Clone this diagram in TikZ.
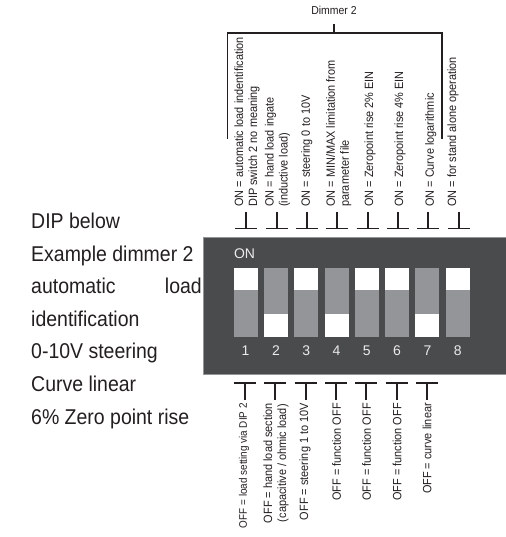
\documentclass[tikz,border=0pt]{standalone}
\usepackage{fontspec}
\setmainfont{Liberation Sans}
\newfontfamily\nar[FakeStretch=0.91]{Liberation Sans}
\definecolor{panel}{HTML}{4A4B4D}
\definecolor{sw}{HTML}{939598}
\definecolor{ink}{HTML}{231F20}
\tikzset{
 vlab/.style={font=\nar\fontsize{12}{14}\selectfont,rotate=90,inner sep=0pt,align=left,text=ink},
 onlab/.style={vlab,anchor=west},
 offlab/.style={vlab,anchor=east},
 mark line/.style={draw=ink,line width=1.9pt},
 side/.style={font=\nar\fontsize{21.4}{24}\selectfont,anchor=base west,inner sep=0pt,text=ink},
 swbody/.style={fill=sw,draw=none},
 swknob/.style={fill=white,draw=none},
 swnum/.style={font=\fontsize{14}{15}\selectfont,text=white!92!black,inner sep=0pt}
}
\begin{document}
\begin{tikzpicture}[x=1pt,y=-1pt]
\useasboundingbox (0,0) rectangle (505,537);
\fill[white] (0,0) rectangle (505,537);
% side text
\node[side] (s1) at (31,228) {DIP below};
\node[side] (s2) at (31,261) {Example dimmer 2};
\node[side] (s3) at (31,293.5) {automatic};
\node[side,anchor=base east] (s3b) at (202,293.5) {load};
\node[side] (s4) at (31,326) {identification};
\node[side] (s5) at (31,358.5) {0-10V steering};
\node[side] (s6) at (31,391) {Curve linear};
\node[side] (s7) at (31,424) {6\% Zero point rise};
% panel
\filldraw[fill=panel,draw=sw,line width=0.8pt] (203.5,237) rectangle (507,374);
\node[font=\fontsize{14}{15}\selectfont,text=white!92!black,inner sep=0pt] (on) at (244.5,254) {ON};
% switches
\foreach \i/\up in {1/1,2/0,3/1,4/0,5/1,6/1,7/0,8/1}{
 \pgfmathsetmacro\xl{233.6+30.3*(\i-1)}
 \pgfmathsetmacro\xr{\xl+24}
 \fill[swbody] (\xl,267.5) rectangle (\xr,336.7);
 \ifnum\up=1
  \fill[swknob] (\xl,267.5) rectangle (\xr,290);
 \else
  \fill[swknob] (\xl,314) rectangle (\xr,336.7);
 \fi
 \pgfmathsetmacro\xc{\xl+12}
 \node[swnum] (n\i) at (\xc,350.5) {\i};
}
% top marks
\foreach \i in {1,...,8}{
 \pgfmathsetmacro\xc{246.3+30.35*(\i-1)}
 \coordinate (ta\i) at (\xc,212);
 \coordinate (tb\i) at (\xc,228.5);
 \coordinate (tl\i) at (\xc-11,228.5);
 \coordinate (tr\i) at (\xc+11,228.5);
 \draw[mark line] (ta\i) -- (tb\i);
 \draw[mark line] (tl\i) -- (tr\i);
}
% bottom marks
\foreach \i in {1,...,7}{
 \pgfmathsetmacro\xc{245+30.35*(\i-1)}
 \coordinate (ba\i) at (\xc,400);
 \coordinate (bb\i) at (\xc,382.7);
 \coordinate (bl\i) at (\xc-11,382.7);
 \coordinate (br\i) at (\xc+11,382.7);
 \draw[mark line] (ba\i) -- (bb\i);
 \draw[mark line] (bl\i) -- (br\i);
}
% bracket
\node[font=\nar\fontsize{11.5}{12}\selectfont,inner sep=0pt,text=ink] (dim) at (334,10.5) {Dimmer 2};
\coordinate (bk1) at (227.5,139);
\coordinate (bk2) at (227.5,33);
\coordinate (bk3) at (442,33);
\coordinate (bk4) at (442,139);
\coordinate (bk5) at (334,33);
\coordinate (bk6) at (334,24);
\draw[mark line] (bk1) -- (bk2) -- (bk3) -- (bk4);
\draw[mark line] (bk5) -- (bk6);
% ON labels
\node[onlab] (on1) at (247,207) {ON = automatic load indentification\\DIP switch 2 no meaning};
\node[onlab] (on2) at (277.5,207) {ON = hand load ingate\\(inductive load)};
\node[onlab] (on3) at (306.7,207) {ON = steering 0 to 10V};
\node[onlab] (on4) at (338.7,207) {ON = MIN/MAX limitation from\\parameter file};
\node[onlab] (on5) at (370,207) {ON = Zeropoint rise 2\% EIN};
\node[onlab] (on6) at (400,207) {ON = Zeropoint rise 4\% EIN};
\node[onlab] (on7) at (430.7,207) {ON = Curve logarithmic};
\node[onlab] (on8) at (453,207) {ON = for stand alone operation};
% OFF labels
\node[offlab,font=\nar\fontsize{10.9}{14}\selectfont] (of1) at (244,403) {OFF = load setting via DIP 2};
\node[offlab,align=center] (of2) at (276,403) {OFF = hand load section\\(capacitive / ohmic load)};
\node[offlab] (of3) at (305,403) {OFF = steering 1 to 10V};
\node[offlab] (of4) at (336.7,403) {OFF = function OFF};
\node[offlab] (of5) at (366.7,403) {OFF = function OFF};
\node[offlab] (of6) at (397,403) {OFF = function OFF};
\node[offlab] (of7) at (427,403) {OFF = curve linear};
\end{tikzpicture}
\end{document}
